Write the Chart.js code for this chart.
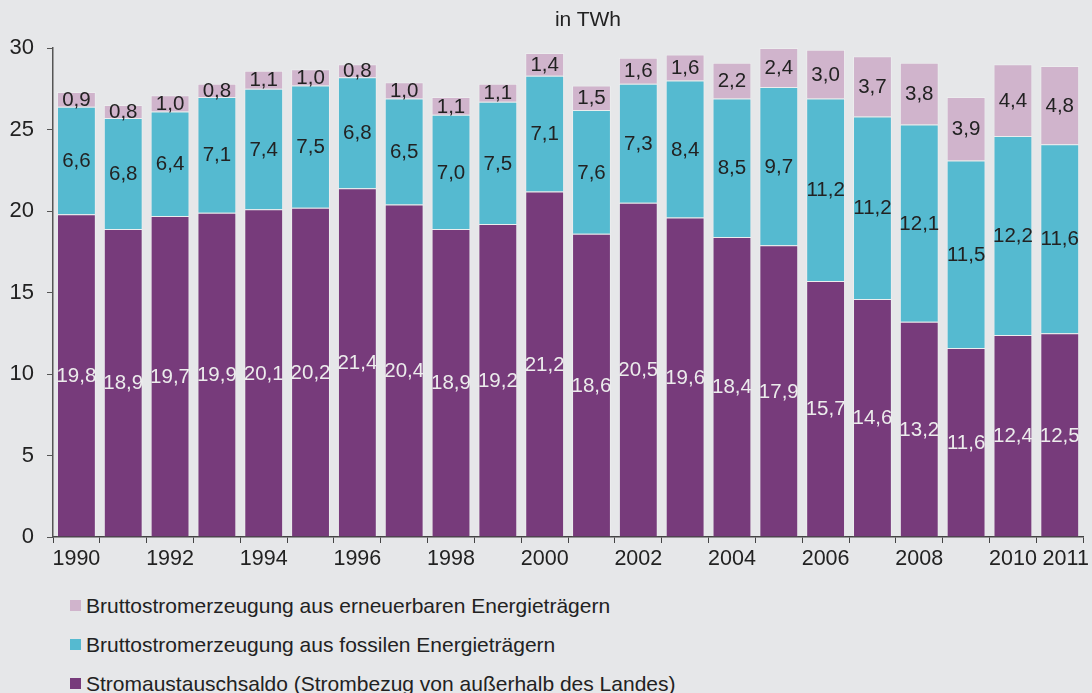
<!DOCTYPE html>
<html lang="de">
<head>
<meta charset="utf-8">
<title>Stromaufkommen in TWh</title>
<script src="https://cdn.jsdelivr.net/npm/chart.js@4.4.1/dist/chart.umd.min.js"></script>
<style>
  html, body { margin: 0; padding: 0; background: #e6e7e9; }
  body { width: 1092px; height: 693px; overflow: hidden; font-family: 'Liberation Sans', Arial, sans-serif; color: #222; }
  .wrap { position: relative; width: 1092px; height: 575px; }
  .unit { position: absolute; top: 7px; left: 0; width: 1176px; text-align: center; font-size: 21px; color: #222; }
  #legend { list-style: none; margin: 0; padding: 11px 0 0 70px; }
  #legend li { display: flex; align-items: center; height: 39px; font-size: 21px; }
  #legend .box { width: 11px; height: 11px; margin-right: 5px; }
</style>
</head>
<body>
<div class="wrap">
  <div class="unit">in TWh</div>
  <canvas id="chart" width="1092" height="575"></canvas>
</div>
<ul id="legend"></ul>

<script>
// Jahre
const years = ['1990','1991','1992','1993','1994','1995','1996','1997','1998','1999','2000',
               '2001','2002','2003','2004','2005','2006','2007','2008','2009','2010','2011'];

// Stromaustauschsaldo (Strombezug von außerhalb des Landes)
const saldo = [19.8, 18.9, 19.7, 19.9, 20.1, 20.2, 21.4, 20.4, 18.9, 19.2, 21.2,
               18.6, 20.5, 19.6, 18.4, 17.9, 15.7, 14.6, 13.2, 11.6, 12.4, 12.5];

// Bruttostromerzeugung aus fossilen Energieträgern
const fossil = [6.6, 6.8, 6.4, 7.1, 7.4, 7.5, 6.8, 6.5, 7.0, 7.5, 7.1,
                7.6, 7.3, 8.4, 8.5, 9.7, 11.2, 11.2, 12.1, 11.5, 12.2, 11.6];

// Bruttostromerzeugung aus erneuerbaren Energieträgern
const erneuerbar = [0.9, 0.8, 1.0, 0.8, 1.1, 1.0, 0.8, 1.0, 1.1, 1.1, 1.4,
                    1.5, 1.6, 1.6, 2.2, 2.4, 3.0, 3.7, 3.8, 3.9, 4.4, 4.8];

const yTicks = [0, 5, 10, 15, 20, 25, 30];
const shownYears = ['1990','1992','1994','1996','1998','2000','2002','2004','2006','2008','2010','2011'];

const PURPLE = '#773b7b';
const CYAN = '#55bad0';
const PINK = '#d0b4cc';

function fmt(v) {
    return v.toFixed(1).replace('.', ',');
}

// Werte mittig in die Segmente schreiben
const segmentLabels = {
    id: 'segmentLabels',
    afterDatasetsDraw(chart) {
        const ctx = chart.ctx;
        ctx.save();
        ctx.font = "20.5px 'Liberation Sans', Arial, sans-serif";
        ctx.textAlign = 'center';
        ctx.textBaseline = 'middle';
        chart.data.datasets.forEach((ds, di) => {
            const meta = chart.getDatasetMeta(di);
            meta.data.forEach((bar, i) => {
                const y = (bar.y + bar.base) / 2;
                ctx.fillStyle = di === 0 ? '#ececec' : '#222';
                ctx.fillText(fmt(ds.data[i]), bar.x, y + 1);
            });
        });
        ctx.restore();
    }
};

Chart.defaults.font.family = "'Liberation Sans', Arial, sans-serif";
Chart.defaults.color = '#222';

const chart = new Chart(document.getElementById('chart'), {
    type: 'bar',
    data: {
        labels: years,
        datasets: [
            { label: 'Stromaustauschsaldo (Strombezug von außerhalb des Landes)', data: saldo, backgroundColor: PURPLE },
            { label: 'Bruttostromerzeugung aus fossilen Energieträgern', data: fossil, backgroundColor: CYAN },
            { label: 'Bruttostromerzeugung aus erneuerbaren Energieträgern', data: erneuerbar, backgroundColor: PINK }
        ].map(ds => Object.assign(ds, {
            borderColor: 'rgba(255,255,255,0.25)',
            borderWidth: 1,
            categoryPercentage: 1.0,
            barPercentage: 0.83
        }))
    },
    options: {
        responsive: false,
        animation: false,
        layout: { padding: { top: 48, right: 7, left: 0, bottom: 0 } },
        plugins: {
            legend: { display: false },
            tooltip: { enabled: false }
        },
        scales: {
            x: {
                stacked: true,
                grid: { display: true, drawOnChartArea: false, drawTicks: true, tickLength: 6, color: '#444', offset: true },
                border: { display: true, color: '#444', width: 1.5 },
                ticks: {
                    autoSkip: false,
                    maxRotation: 0,
                    padding: 3,
                    font: { size: 21.5 },
                    color: '#222',
                    callback: function (value) {
                        const y = this.getLabelForValue(value);
                        if (y === '2011') return '  ' + y;
                        return shownYears.includes(y) ? y : '';
                    }
                },
                afterFit(scale) { scale.height = 38; }
            },
            y: {
                stacked: true,
                min: 0,
                max: 30,
                afterBuildTicks(scale) { scale.ticks = yTicks.map(v => ({ value: v })); },
                grid: { display: true, drawOnChartArea: false, drawTicks: true, tickLength: 6, color: '#555' },
                border: { display: true, color: '#555', width: 1.5 },
                ticks: { padding: 13, font: { size: 22 }, color: '#222' },
                afterFit(scale) { scale.width = 53; }
            }
        }
    },
    plugins: [segmentLabels]
});

// Legende (umgekehrte Reihenfolge wie im Original)
const legendEl = document.getElementById('legend');
chart.data.datasets.slice().reverse().forEach(ds => {
    const li = document.createElement('li');
    const box = document.createElement('span');
    box.className = 'box';
    box.style.background = ds.backgroundColor;
    li.appendChild(box);
    li.appendChild(document.createTextNode(ds.label));
    legendEl.appendChild(li);
});
</script>
</body>
</html>
